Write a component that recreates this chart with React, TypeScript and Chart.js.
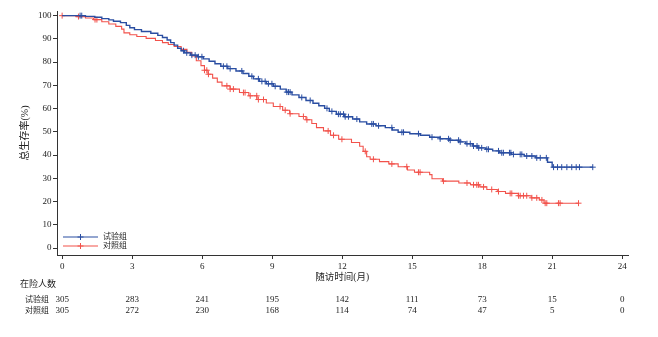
import { useEffect, useRef } from "react";
import { Chart, registerables } from "chart.js";
Chart.register(...registerables);

const FONT = "'Liberation Serif', 'Noto Sans CJK SC', serif";
const TEXT = "#222";
const BLUE = "#2A4EA2";
const RED = "#F2524B";

const groupNames = ["试验组", "对照组"];
const xTicks = [0, 3, 6, 9, 12, 15, 18, 21, 24];
const yTicks = [0, 10, 20, 30, 40, 50, 60, 70, 80, 90, 100];

const expTimes = [0, 1.0, 1.4, 1.7, 2.0, 2.2, 2.5, 2.75, 2.9, 3.1, 3.4, 3.8, 4.1, 4.3, 4.5, 4.65, 4.8, 4.95, 5.1, 5.25, 5.5, 5.8, 6.05, 6.3, 6.55, 6.8, 7.1, 7.45, 7.75, 8.0, 8.2, 8.45, 8.75, 9.05, 9.35, 9.6, 9.85, 10.15, 10.45, 10.75, 11.0, 11.25, 11.45, 11.75, 12.1, 12.45, 12.75, 13.05, 13.45, 13.85, 14.15, 14.4, 14.9, 15.35, 15.75, 16.2, 16.6, 17.0, 17.3, 17.6, 17.8, 18.15, 18.45, 18.75, 19.25, 19.8, 20.3, 20.8, 21.0];
const expSurv = [100, 99.7, 99.3, 98.7, 98.2, 97.6, 97.0, 95.8, 94.8, 94.0, 93.2, 92.4, 91.5, 90.6, 89.5, 88.4, 87.3, 86.0, 84.9, 84.0, 83.0, 82.3, 81.4, 80.4, 79.3, 78.2, 77.2, 76.2, 75.1, 73.9, 72.8, 71.7, 70.7, 69.6, 68.4, 67.1, 65.9, 64.8, 63.5, 62.3, 61.2, 60.1, 58.8, 57.6, 56.5, 55.5, 54.3, 53.4, 52.6, 51.8, 50.8, 49.8, 49.2, 48.5, 47.7, 47.0, 46.4, 45.7, 44.9, 43.9, 43.1, 42.5, 41.8, 41.0, 40.3, 39.6, 38.8, 36.9, 34.8];
const expEnd = 22.75;
const expCensor = [0.77, 0.84, 5.2, 5.34, 5.56, 5.7, 5.84, 5.99, 6.91, 7.06, 7.2, 7.7, 8.13, 8.41, 8.56, 8.7, 8.84, 8.99, 9.13, 9.63, 9.7, 9.77, 10.27, 10.63, 11.35, 11.56, 11.84, 11.92, 12.06, 12.13, 12.27, 12.63, 13.27, 13.34, 13.56, 14.13, 14.56, 14.63, 15.27, 15.85, 16.2, 16.56, 16.63, 16.99, 17.06, 17.35, 17.49, 17.63, 17.78, 17.85, 17.98, 18.2, 18.27, 18.7, 18.84, 18.91, 19.17, 19.23, 19.34, 19.63, 19.7, 19.91, 20.13, 20.34, 20.49, 20.75, 21.06, 21.23, 21.41, 21.63, 21.84, 22.03, 22.17, 22.74];

const ctlTimes = [0, 0.6, 1.0, 1.35, 1.7, 2.0, 2.3, 2.55, 2.65, 2.9, 3.2, 3.6, 4.0, 4.3, 4.55, 4.8, 5.1, 5.35, 5.55, 5.75, 5.95, 6.1, 6.25, 6.45, 6.65, 6.85, 7.2, 7.6, 8.0, 8.35, 8.75, 9.05, 9.45, 9.75, 10.15, 10.45, 10.7, 10.9, 11.2, 11.5, 11.85, 12.4, 12.75, 12.9, 13.05, 13.2, 13.6, 14.0, 14.4, 14.8, 15.1, 15.75, 15.85, 16.3, 17.0, 17.5, 17.9, 18.2, 18.65, 19.0, 19.55, 20.1, 20.45, 20.65];
const ctlSurv = [100, 99.6, 99.0, 98.3, 97.4, 96.4, 95.4, 94.2, 92.6, 91.8, 91.0, 90.2, 89.3, 88.4, 87.6, 86.7, 85.5, 84.2, 82.7, 80.6, 78.5, 76.5, 74.8, 73.1, 71.4, 69.8, 68.4, 66.9, 65.5, 63.9, 62.4, 60.9, 59.3, 57.8, 56.6, 55.2, 53.6, 51.8, 50.4, 48.5, 46.8, 45.4, 43.8, 41.6, 39.3, 38.2, 37.2, 36.2, 35.0, 33.6, 32.6, 31.6, 29.8, 28.8, 28.0, 27.2, 26.3, 25.2, 24.3, 23.5, 22.5, 21.6, 20.7, 19.3];
const ctlEnd = 22.13;
const ctlCensor = [0, 0.7, 1.41, 1.49, 6.1, 6.2, 6.27, 7.06, 7.2, 7.34, 7.77, 7.84, 8.06, 8.34, 8.41, 8.63, 9.34, 9.56, 9.77, 10.34, 10.49, 11.4, 11.63, 11.99, 12.99, 13.34, 14.13, 14.77, 15.27, 15.34, 16.34, 17.35, 17.63, 17.77, 17.84, 18.06, 18.41, 18.7, 19.2, 19.27, 19.56, 19.63, 19.77, 19.91, 20.13, 20.34, 20.56, 20.7, 20.77, 21.27, 21.34, 22.13];

const riskTitle = "在险人数";
const expRisk = [305, 283, 241, 195, 142, 111, 73, 15, 0];
const ctlRisk = [305, 272, 230, 168, 114, 74, 47, 5, 0];
const xTitle = "随访时间(月)";
const yTitle = "总生存率(%)";

function stepPoints(times: number[], surv: number[], end: number) {
  const pts = times.map((t, i) => ({ x: t, y: surv[i] }));
  pts.push({ x: end, y: surv[surv.length - 1] });
  return pts;
}
function lookup(times: number[], surv: number[], t: number) {
  let v = surv[0];
  for (let i = 0; i < times.length; i++) if (times[i] <= t) v = surv[i];
  return v;
}
function censorPoints(times: number[], surv: number[], cens: number[]) {
  return cens.map((t) => ({ x: t, y: lookup(times, surv, t) }));
}

function drawCross(ctx: CanvasRenderingContext2D, x: number, y: number, r: number) {
  ctx.beginPath();
  ctx.moveTo(x - r, y);
  ctx.lineTo(x + r, y);
  ctx.moveTo(x, y - r);
  ctx.lineTo(x, y + r);
  ctx.stroke();
}

const textPlugin = {
  id: "kmText",
  afterDraw(chart: any) {
    const ctx: CanvasRenderingContext2D = chart.ctx;
    const xs = chart.scales.x;
    const ys = chart.scales.y;
    ctx.save();
    ctx.fillStyle = TEXT;
    ctx.textBaseline = "middle";
    // x title
    ctx.font = `9.5px ${FONT}`;
    ctx.textAlign = "center";
    ctx.fillText(xTitle, xs.getPixelForValue(12), 277);
    // y title
    ctx.save();
    ctx.font = `10px ${FONT}`;
    ctx.translate(25, 133);
    ctx.rotate(-Math.PI / 2);
    ctx.fillText(yTitle, 0, 0);
    ctx.restore();
    // risk table
    ctx.textAlign = "left";
    ctx.font = `9px ${FONT}`;
    ctx.fillText(riskTitle, 20, 285);
    const rows = [expRisk, ctlRisk];
    const rowY = [300, 310.5];
    rows.forEach((row, r) => {
      ctx.textAlign = "right";
      ctx.font = `8px ${FONT}`;
      ctx.fillText(groupNames[r], 49, rowY[r]);
      ctx.textAlign = "center";
      ctx.font = `9px ${FONT}`;
      row.forEach((n, i) => ctx.fillText(String(n), xs.getPixelForValue(xTicks[i]), rowY[r]));
    });
    // legend
    const colors = [BLUE, RED];
    const ly = [237, 246];
    colors.forEach((c, i) => {
      ctx.strokeStyle = c;
      ctx.lineWidth = 1.2;
      ctx.beginPath();
      ctx.moveTo(63, ly[i]);
      ctx.lineTo(98, ly[i]);
      ctx.stroke();
      ctx.lineWidth = 1;
      drawCross(ctx, 80.5, ly[i], 3);
      ctx.fillStyle = TEXT;
      ctx.textAlign = "left";
      ctx.font = `8px ${FONT}`;
      ctx.fillText(groupNames[i], 103, ly[i]);
    });
    ctx.restore();
  },
};

export default function App() {
  const ref = useRef<HTMLCanvasElement | null>(null);
  useEffect(() => {
    document.body.style.margin = "0";
    const canvas = ref.current!;
    const tickFont = { family: FONT, size: 9 };
    const chart = new Chart(canvas, {
      type: "line",
      data: {
        datasets: [
          {
            label: groupNames[0],
            data: stepPoints(expTimes, expSurv, expEnd),
            borderColor: BLUE,
            borderWidth: 1.4,
            stepped: true,
            pointRadius: 0,
            fill: false,
          },
          {
            label: groupNames[0] + "c",
            data: censorPoints(expTimes, expSurv, expCensor),
            borderColor: BLUE,
            showLine: false,
            pointStyle: "cross",
            pointRadius: 3,
            pointBorderWidth: 1,
            pointBorderColor: BLUE,
          },
          {
            label: groupNames[1],
            data: stepPoints(ctlTimes, ctlSurv, ctlEnd),
            borderColor: RED,
            borderWidth: 1.1,
            stepped: true,
            pointRadius: 0,
            fill: false,
          },
          {
            label: groupNames[1] + "c",
            data: censorPoints(ctlTimes, ctlSurv, ctlCensor),
            borderColor: RED,
            showLine: false,
            pointStyle: "cross",
            pointRadius: 3,
            pointBorderWidth: 1,
            pointBorderColor: RED,
          },
        ],
      },
      options: {
        responsive: false,
        animation: false,
        events: [],
        layout: { padding: { left: 0, right: 30, top: 11, bottom: 0 } },
        plugins: { legend: { display: false }, tooltip: { enabled: false } },
        scales: {
          x: {
            type: "linear",
            min: -0.22,
            max: 24.25,
            afterFit: (s: any) => {
              s.height = 82;
            },
            afterBuildTicks: (s: any) => {
              s.ticks = xTicks.map((v) => ({ value: v }));
            },
            grid: { drawOnChartArea: false, drawTicks: true, tickLength: 4, color: "#333" },
            border: { color: "#333", width: 1 },
            ticks: { font: tickFont, color: TEXT, padding: 2, maxRotation: 0, autoSkip: false },
          },
          y: {
            type: "linear",
            min: -3,
            max: 102,
            afterFit: (s: any) => {
              s.width = 57;
            },
            afterBuildTicks: (s: any) => {
              s.ticks = yTicks.map((v) => ({ value: v }));
            },
            grid: { drawOnChartArea: false, drawTicks: true, tickLength: 4, color: "#333" },
            border: { color: "#333", width: 1 },
            ticks: { font: tickFont, color: TEXT, padding: 1.5, autoSkip: false },
          },
        },
      },
      plugins: [textPlugin],
    });
    return () => chart.destroy();
  }, []);
  return <canvas ref={ref} width={658} height={337} style={{ display: "block" }} />;
}
